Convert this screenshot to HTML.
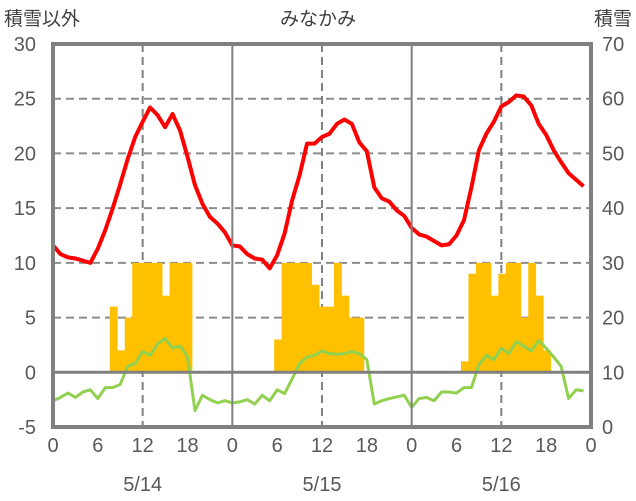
<!DOCTYPE html>
<html><head><meta charset="utf-8"><style>
html,body{margin:0;padding:0;background:#fff;}
svg{display:block;font-family:"Liberation Sans","Noto Sans CJK JP",sans-serif;}
</style></head><body>
<svg id="chart" width="636" height="501" viewBox="0 0 636 501">
<g id="grid"></g>
<g id="bars"></g>
<g id="lines"></g>
<g id="frame"></g>
<g id="labels" fill="#595959" font-size="20"></g>
<text x="4" y="25" font-size="19" fill="#404040">積雪以外</text>
<text x="318" y="25" font-size="19" fill="#404040" text-anchor="middle">みなかみ</text>
<text x="632" y="25" font-size="19" fill="#404040" text-anchor="end">積雪</text>
</svg>
<script>
const leftTicks=[30,25,20,15,10,5,0,-5];
const rightTicks=[70,60,50,40,30,20,10,0];
const hourTicks=[0,6,12,18];
const dates=["5/14","5/15","5/16"];
const barHours=[8,9,10,11,12,13,14,15,16,17,18, 30,31,32,33,34,35,36,37,38,39,40,41, 55,56,57,58,59,60,61,62,63,64,65,66];
const barValues=[6,2,5,10,10,10,10,7,10,10,10, 3,10,10,10,10,8,6,6,10,7,5,5, 1,9,10,10,7,9,10,10,5,10,7,2];
const redTemp=[11.6,10.8,10.5,10.4,10.2,10.0,11.3,13.0,15.0,17.2,19.5,21.5,22.9,24.2,23.5,22.4,23.6,22.1,19.7,17.1,15.4,14.2,13.6,12.8,
11.6,11.5,10.8,10.4,10.3,9.5,10.7,12.7,15.7,18.0,20.9,20.9,21.5,21.8,22.7,23.1,22.7,21.0,20.2,16.9,15.9,15.6,14.8,14.3,
13.2,12.6,12.4,12.0,11.6,11.7,12.5,13.9,16.9,20.3,21.8,22.9,24.3,24.7,25.3,25.2,24.4,22.7,21.7,20.3,19.2,18.2,17.6,17.0];
const greenSeries=[-2.6,-2.3,-1.9,-2.3,-1.8,-1.6,-2.4,-1.4,-1.4,-1.1,0.55,0.8,1.9,1.55,2.6,3.1,2.2,2.4,1.4,-3.5,-2.1,-2.5,-2.8,-2.6,
-2.8,-2.7,-2.5,-2.9,-2.1,-2.6,-1.6,-1.95,-0.6,0.8,1.4,1.55,1.95,1.7,1.65,1.7,1.9,1.7,1.15,-2.9,-2.6,-2.4,-2.25,-2.1,
-3.2,-2.4,-2.3,-2.6,-1.8,-1.8,-1.9,-1.4,-1.4,0.7,1.55,1.15,2.2,1.7,2.8,2.4,1.95,2.9,2.2,1.4,0.55,-2.4,-1.6,-1.7];
const X0=53,X1=591,Y0=427,Y1=44;
const x=h=>X0+h*(X1-X0)/72;
const y=v=>Y0-(v+5)*(Y0-Y1)/35;
const NS="http://www.w3.org/2000/svg";
function mk(tag,attrs,parent){const e=document.createElementNS(NS,tag);for(const k in attrs)e.setAttribute(k,attrs[k]);parent.appendChild(e);return e;}
const grid=document.getElementById('grid'),bars=document.getElementById('bars'),lines=document.getElementById('lines'),frame=document.getElementById('frame'),labels=document.getElementById('labels');
leftTicks.forEach(v=>{if(v===30||v===-5||v===0)return;const l=mk('line',{x1:X0,x2:X1,y1:y(v),y2:y(v),stroke:'#8c8c8c','stroke-width':2,'stroke-dasharray':'8,5'},grid);

});
for(let d=0;d<3;d++){const l=mk('line',{x1:x(d*24+12),x2:x(d*24+12),y1:Y1,y2:Y0,stroke:'#808080','stroke-width':2,'stroke-dasharray':'8,5'},grid);

}
barHours.forEach((h,i)=>{const r=mk('rect',{x:x(h-0.4),width:x(1)-x(0)+0.4,y:y(barValues[i]),height:y(0)-y(barValues[i]),fill:'#ffc000'},bars);

});
const z=mk('line',{x1:X0,x2:X1,y1:y(0),y2:y(0),stroke:'#808080','stroke-width':3},frame);


[24,48].forEach(h=>{const l=mk('line',{x1:x(h),x2:x(h),y1:Y1,y2:Y0,stroke:'#808080','stroke-width':2},frame);

});
const gp=mk('polyline',{points:greenSeries.map((v,i)=>x(i)+','+y(v)).join(' '),fill:'none',stroke:'#92d050','stroke-width':3,'stroke-linejoin':'round'},lines);


const rp=mk('polyline',{points:redTemp.map((v,i)=>x(i)+','+y(v)).join(' '),fill:'none',stroke:'#ff0000','stroke-width':4,'stroke-linejoin':'round'},lines);


const fr=mk('rect',{x:X0,y:Y1,width:X1-X0,height:Y0-Y1,fill:'none',stroke:'#808080','stroke-width':4},frame);


leftTicks.forEach(v=>{const t=mk('text',{x:36,y:y(v)+7,'text-anchor':'end'},labels);t.textContent=v;

});
rightTicks.forEach((v,i)=>{const t=mk('text',{x:602,y:y(leftTicks[i])+7},labels);t.textContent=v;

});
for(let d=0;d<3;d++){hourTicks.forEach(h=>{const t=mk('text',{x:x(d*24+h),y:452,'text-anchor':'middle'},labels);t.textContent=h;

});
const t=mk('text',{x:x(d*24+12),y:491,'text-anchor':'middle'},labels);t.textContent=dates[d];

}
const t=mk('text',{x:X1,y:452,'text-anchor':'middle'},labels);t.textContent=0;


</script>
</body></html>
